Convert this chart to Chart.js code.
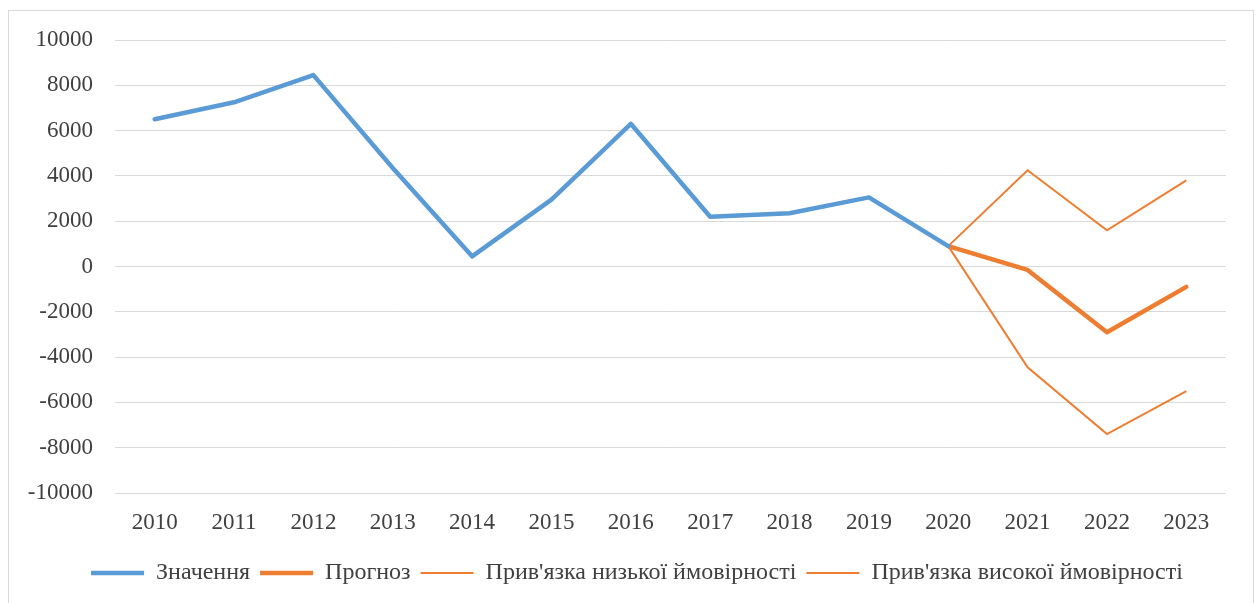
<!DOCTYPE html>
<html>
<head>
<meta charset="utf-8">
<script src="https://cdn.jsdelivr.net/npm/chart.js@4.4.1/dist/chart.umd.min.js"></script>
<style>
  html, body { margin: 0; padding: 0; background: #fff; }
  #wrap { width: 1259px; height: 603px; }
</style>
</head>
<body>
<div id="wrap"><canvas id="grafik" width="1259" height="603"></canvas></div>
<script>
// дані графіка
const roky = ['2010','2011','2012','2013','2014','2015','2016','2017','2018','2019','2020','2021','2022','2023'];
const znachennya = [6500, 7250, 8450, 4350, 450, 2950, 6300, 2200, 2350, 3050, 900, null, null, null];
const prognoz = [null, null, null, null, null, null, null, null, null, null, 900, -150, -2900, -900];
const nyzka = [null, null, null, null, null, null, null, null, null, null, 900, -4450, -7400, -5500];
const vysoka = [null, null, null, null, null, null, null, null, null, null, 900, 4250, 1600, 3800];
const yTicks = [-10000, -8000, -6000, -4000, -2000, 0, 2000, 4000, 6000, 8000, 10000];

const SYNIJ = '#5B9BD5';
const ORANZH = '#ED7D31';
const shryft = "'Liberation Serif', 'Times New Roman', serif";

// рамка навколо всієї області
const ramka = {
    id: 'ramka',
    beforeDraw(chart) {
        const c = chart.ctx;
        c.save();
        c.fillStyle = '#fff';
        c.fillRect(0, 0, chart.width, chart.height);
        c.strokeStyle = '#d9d9d9';
        c.lineWidth = 1;
        c.strokeRect(8.5, 10.5, 1245, 610);
        c.restore();
    }
};

// легенда трохи правіше і нижче, як в оригіналі
const zsuvLegendy = {
    id: 'zsuvLegendy',
    afterLayout(chart) {
        const l = chart.legend;
        if (!l) return;
        l.left += 24; l.right += 24;
        l.top += 2; l.bottom += 2;
    }
};

new Chart(document.getElementById('grafik'), {
    type: 'line',
    data: {
        labels: roky,
        datasets: [
            { label: 'Значення', data: znachennya, borderColor: SYNIJ, backgroundColor: SYNIJ, borderWidth: 4.5, pointRadius: 0, borderCapStyle: 'round', borderJoinStyle: 'round' },
            { label: 'Прогноз', data: prognoz, borderColor: ORANZH, backgroundColor: ORANZH, borderWidth: 4.5, pointRadius: 0, borderCapStyle: 'round', borderJoinStyle: 'round' },
            { label: "Прив'язка низької ймовірності", data: nyzka, borderColor: ORANZH, backgroundColor: ORANZH, borderWidth: 2, pointRadius: 0 },
            { label: "Прив'язка високої ймовірності", data: vysoka, borderColor: ORANZH, backgroundColor: ORANZH, borderWidth: 2, pointRadius: 0 }
        ]
    },
    options: {
        responsive: false,
        animation: false,
        layout: { padding: { top: 40, right: 33, bottom: 10, left: 0 } },
        scales: {
            x: {
                offset: true,
                grid: { display: false },
                border: { display: false },
                ticks: { color: '#404040', font: { family: shryft, size: 23 }, maxRotation: 0, padding: 8 },
                afterFit(s) { s.height = 56; }
            },
            y: {
                min: -10000, max: 10000,
                afterBuildTicks(s) { s.ticks = yTicks.map(v => ({ value: v })); },
                grid: { color: '#d9d9d9', lineWidth: 1, drawTicks: false },
                border: { display: false },
                ticks: { color: '#404040', font: { family: shryft, size: 23 }, padding: 22, callback: v => String(v) },
                afterFit(s) { s.width = 115; }
            }
        },
        plugins: {
            legend: {
                position: 'bottom',
                labels: {
                    usePointStyle: true,
                    pointStyle: 'line',
                    pointStyleWidth: 53,
                    color: '#404040',
                    font: { family: shryft, size: 24 },
                    padding: 10
                }
            },
            tooltip: { enabled: false }
        }
    },
    plugins: [ramka, zsuvLegendy]
});
</script>
</body>
</html>
